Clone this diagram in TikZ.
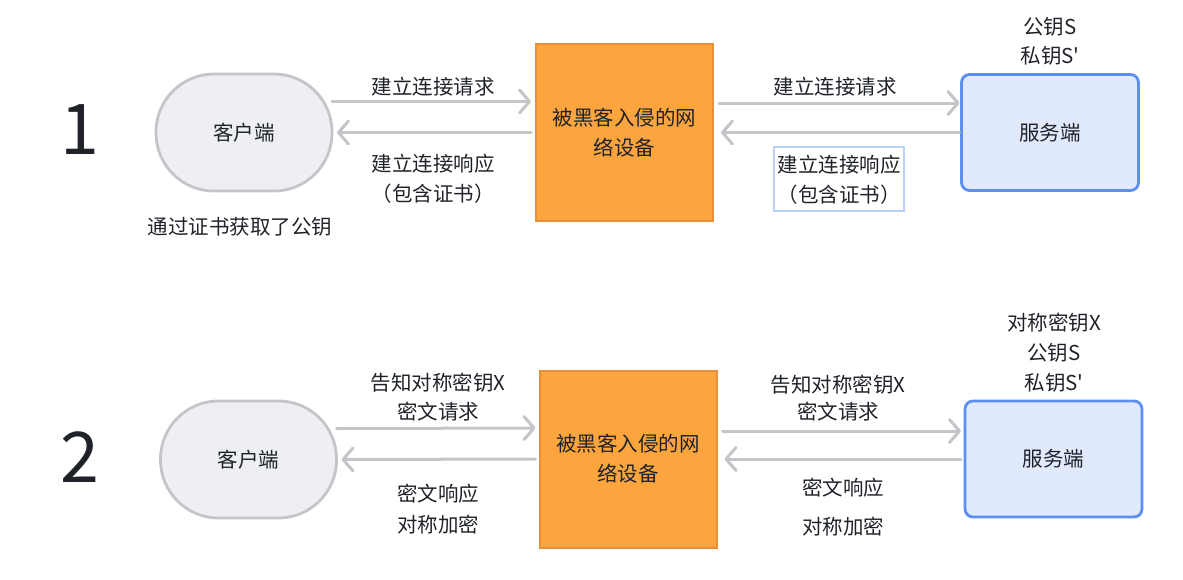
\documentclass[tikz,border=0pt]{standalone}
\usepackage{fontspec}
\newfontfamily\cjk{Noto Sans CJK SC}
\usetikzlibrary{arrows.meta}
\definecolor{txt}{HTML}{1F2329}
\definecolor{arr}{HTML}{C3C5C9}
\definecolor{cfill}{HTML}{EEEFF2}
\definecolor{cdraw}{HTML}{C3C5C9}
\definecolor{ofill}{HTML}{FCA53E}
\definecolor{odraw}{HTML}{E6913A}
\definecolor{sfill}{HTML}{E1EAFD}
\definecolor{sdraw}{HTML}{5B8FF2}
\definecolor{lbox}{HTML}{BCD1FA}
\begin{document}
\begin{tikzpicture}[x=1pt,y=-1pt,
  every node/.style={font=\cjk\fontsize{20.5}{30}\selectfont, text=txt, inner sep=0pt, outer sep=0pt},
  client/.style={draw=cdraw, fill=cfill, line width=2.8pt, minimum width=176pt, minimum height=117pt, rounded corners=58pt},
  hacker/.style={draw=odraw, fill=ofill, line width=2pt, minimum width=177pt, minimum height=177pt, align=center, font=\cjk\fontsize{20.5}{30}\selectfont},
  server/.style={draw=sdraw, fill=sfill, line width=2.8pt, minimum width=177pt, minimum height=116pt, rounded corners=8pt},
  conn/.style={draw=arr, line width=3pt, line cap=round, -{Straight Barb[length=10pt,width=23pt,line cap=round,line join=round]}},
  num/.style={font=\cjk\fontsize{70}{70}\selectfont}
]
\useasboundingbox (0,0) rectangle (1183,579);
% ---------- Row 1 ----------
\node[num] (n1) at (80,130) {1};
\node[client] (c1) at (244,132.5) {客户端};
\node[hacker] (o1) at (624.5,132.5) {被黑客入侵的网\\络设备};
\node[server] (s1) at (1050,132.5) {服务端};
\node (k1a) at (1050,27) {公钥S};
\node (k1b) at (1050,56) {私钥S'};
\node (cap1) at (240,227) {通过证书获取了公钥};

\draw[conn, shorten >=5pt] ([yshift=31pt]c1.east) -- ([yshift=31pt]o1.west);
\draw[conn, shorten >=5pt, shorten <=5pt] (o1.west) -- (c1.east);
\draw[conn, shorten <=6pt, shorten >=2pt] ([yshift=29.5pt]o1.east) -- ([yshift=29.5pt]s1.west);
\draw[conn, shorten <=2pt, shorten >=8pt] (s1.west) -- (o1.east);

\node (l1a) at (433,87) {建立连接请求};
\node (l1b) at (433,164) {建立连接响应};
\node (l1c) at (433,194) {（包含证书）};
\node (r1a) at (835,87) {建立连接请求};
\node[draw=lbox, line width=2.5pt, minimum width=130pt, minimum height=64pt] (rb) at (839,179) {};
\node (r1b) at (839,165) {建立连接响应};
\node (r1c) at (839,195) {（包含证书）};

% ---------- Row 2 ----------
\node[num] (n2) at (80,457) {2};
\node[client] (c2) at (248.5,459.5) {客户端};
\node[hacker] (o2) at (628,459) {被黑客入侵的网\\络设备};
\node[server] (s2) at (1053.5,459) {服务端};
\node (k2a) at (1054,323) {对称密钥X};
\node (k2b) at (1054,353) {公钥S};
\node (k2c) at (1054,383) {私钥S'};

\draw[conn, shorten >=4pt] ([yshift=31pt]c2.east) -- ([yshift=31pt]o2.west);
\draw[conn, shorten >=5pt, shorten <=4pt] (o2.west) -- (c2.east);
\draw[conn, shorten <=6pt, shorten >=4pt] ([yshift=28pt]o2.east) -- ([yshift=28pt]s2.west);
\draw[conn, shorten <=4pt, shorten >=8pt] (s2.west) -- (o2.east);

\node (l2a) at (438,383) {告知对称密钥X};
\node (l2b) at (438,412) {密文请求};
\node (l2c) at (438,494) {密文响应};
\node (l2d) at (438,525) {对称加密};
\node (r2a) at (838,385) {告知对称密钥X};
\node (r2b) at (838,412) {密文请求};
\node (r2c) at (843,488) {密文响应};
\node (r2d) at (843,527) {对称加密};
\end{tikzpicture}
\end{document}
